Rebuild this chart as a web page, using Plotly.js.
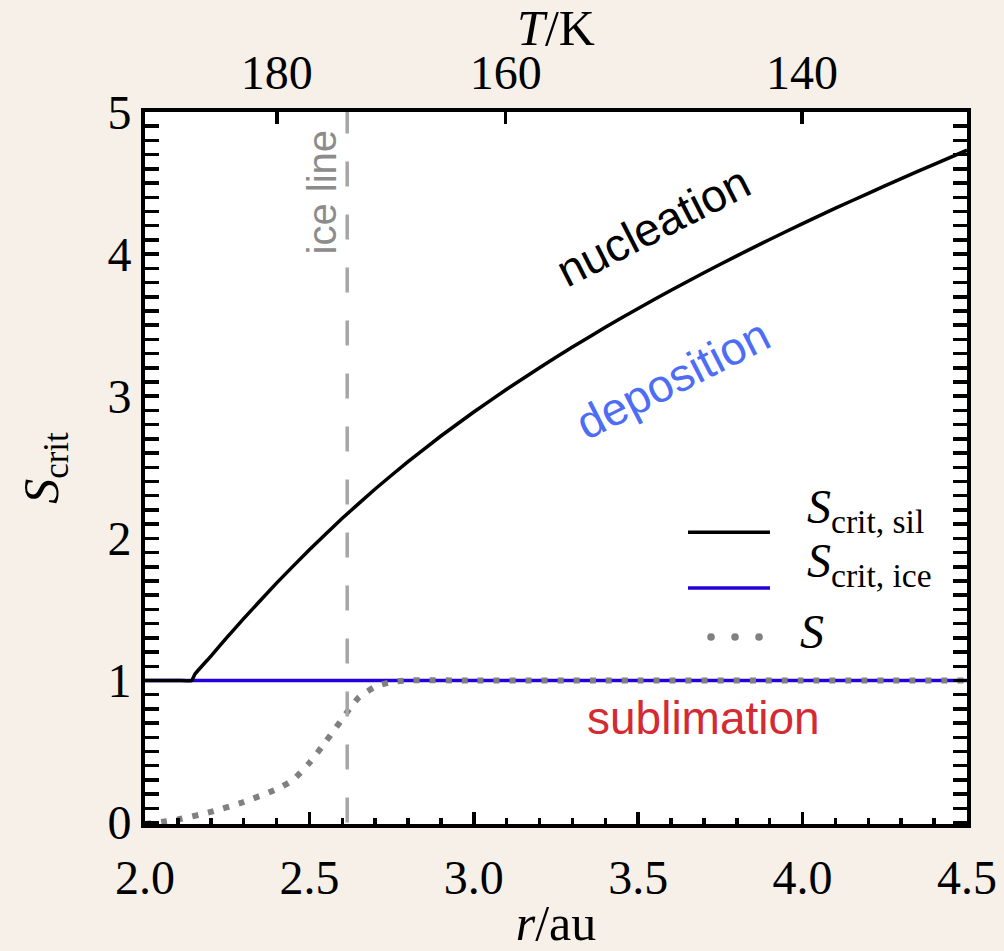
<!DOCTYPE html>
<html><head><meta charset="utf-8">
<script src="https://cdn.plot.ly/plotly-3.0.1.min.js"></script>
<style>html,body{margin:0;padding:0;background:#f6f0e9;} #chart{width:1004px;height:951px;}</style>
</head><body><div id="chart"></div>
<script>
// ---- data ----
const rSil = [2.0, 2.1, 2.142, 2.152, 2.2, 2.25, 2.3, 2.4, 2.5, 2.6, 2.7, 2.8, 2.9, 3.0, 3.1, 3.2, 3.3, 3.4, 3.5, 3.6, 3.7, 3.8, 3.9, 4.0, 4.1, 4.2, 4.3, 4.4, 4.5];
const sSil = [1.0, 1.0, 1.0, 1.045, 1.17, 1.305, 1.435, 1.685, 1.92, 2.141, 2.347, 2.540, 2.720, 2.889, 3.049, 3.201, 3.346, 3.485, 3.618, 3.746, 3.869, 3.988, 4.103, 4.215, 4.323, 4.428, 4.531, 4.632, 4.731];
const rIce = [2.0, 4.5];
const sIce = [1.0, 1.0];
const rSat = [2.0, 2.1, 2.2, 2.3, 2.4, 2.45, 2.5, 2.55, 2.6, 2.65, 2.7, 2.75, 2.8, 3.0, 3.5, 4.0, 4.5];
const sSat = [-0.01, 0.022, 0.075, 0.145, 0.235, 0.30, 0.42, 0.57, 0.73, 0.88, 0.955, 0.99, 1.0, 1.0, 1.0, 1.0, 1.0];
const iceLineR = 2.615;
const iceLineS = [0.0, 5.0];
const tempTickText = ['180', '160', '140'];
const tempTickR = [2.401, 3.097, 3.998];
const legendNames = ['<i>S</i><sub>crit, sil</sub>', '<i>S</i><sub>crit, ice</sub>', '<i>S</i>'];
const regionLabels = ['nucleation', 'deposition', 'sublimation'];
const regionLabelR = [3.546, 3.605, 3.70];
const regionLabelS = [4.20, 3.12, 0.735];

const serif = '"Liberation Serif", "Times New Roman", serif';
const sans = '"Liberation Sans", Arial, sans-serif';

const traces = [
  {x: [iceLineR, iceLineR], y: iceLineS, xaxis: 'x2', mode: 'lines',
   line: {color: '#a6a6a6', width: 3.5, dash: '25px,28px'}, hoverinfo: 'skip'},
  {x: rIce, y: sIce, mode: 'lines', name: legendNames[1], line: {color: '#2200dd', width: 3.5}},
  {x: rSil, y: sSil, mode: 'lines', name: legendNames[0], line: {color: '#000000', width: 3.5, shape: 'spline', smoothing: 0.4}},
  {x: rSat, y: sSat, mode: 'lines', name: legendNames[2], line: {color: '#808080', width: 6, dash: '6px,10px', shape: 'spline', smoothing: 0.6}}
];

const axisCommon = {
  showgrid: false, zeroline: false, showline: true, linecolor: '#000', linewidth: 4,
  ticks: 'inside', tickcolor: '#000', tickwidth: 3.5,
  tickfont: {family: serif, size: 48, color: '#000'}
};

const annotations = [
  {x: regionLabelR[0], y: regionLabelS[0], xref: 'x', yref: 'y', text: regionLabels[0], showarrow: false,
   textangle: -27, font: {family: sans, size: 46, color: '#000000'}},
  {x: regionLabelR[1], y: regionLabelS[1], xref: 'x', yref: 'y', text: regionLabels[1], showarrow: false,
   textangle: -27, font: {family: sans, size: 46, color: '#4d6df5'}},
  {x: regionLabelR[2], y: regionLabelS[2], xref: 'x', yref: 'y', text: regionLabels[2], showarrow: false,
   font: {family: sans, size: 46, color: '#d42a32'}},
  {x: 2.538, y: 4.44, xref: 'x', yref: 'y', text: 'ice line', showarrow: false,
   textangle: -90, font: {family: sans, size: 40, color: '#8c8c8c'}},
  {x: 0.8029, y: 0.4407, xref: 'paper', yref: 'paper', xanchor: 'left', yanchor: 'middle', text: legendNames[0],
   showarrow: false, font: {family: serif, size: 48, color: '#000'}},
  {x: 0.8029, y: 0.3650, xref: 'paper', yref: 'paper', xanchor: 'left', yanchor: 'middle', text: legendNames[1],
   showarrow: false, font: {family: serif, size: 48, color: '#000'}},
  {x: 0.7944, y: 0.270, xref: 'paper', yref: 'paper', xanchor: 'left', yanchor: 'middle', text: legendNames[2],
   showarrow: false, font: {family: serif, size: 48, color: '#000'}}
];

const dotX = [0.6886, 0.7178, 0.7470];
const shapes = [
  {type: 'line', xref: 'paper', yref: 'paper', x0: 0.6606, x1: 0.7603, y0: 0.4099, y1: 0.4099, line: {color: '#000', width: 3.5}},
  {type: 'line', xref: 'paper', yref: 'paper', x0: 0.6606, x1: 0.7603, y0: 0.3314, y1: 0.3314, line: {color: '#2200dd', width: 3.5}}
].concat(dotX.map(function (dx) {
  return {type: 'circle', xref: 'paper', yref: 'paper', xsizemode: 'pixel', ysizemode: 'pixel',
    xanchor: dx, yanchor: 0.2627, x0: -3.8, x1: 3.8, y0: -3.8, y1: 3.8,
    fillcolor: '#808080', line: {width: 0}};
}));

const layout = {
  width: 1004, height: 951,
  paper_bgcolor: '#f6f0e9', plot_bgcolor: '#ffffff',
  margin: {l: 145, r: 37, t: 112, b: 127, pad: 0},
  showlegend: false,
  font: {family: serif, color: '#000'},
  xaxis: Object.assign({}, axisCommon, {
    range: [2, 4.5], tick0: 2, dtick: 0.5, tickformat: '.1f', ticklen: 12, mirror: false,
    ticklabelstandoff: 8,
    minor: {ticks: 'inside', dtick: 0.1, tick0: 2, ticklen: 6, tickwidth: 3.5, tickcolor: '#000', showgrid: false},
    title: {text: '<i>r</i>/au', font: {family: serif, size: 50}, standoff: 14}
  }),
  xaxis2: Object.assign({}, axisCommon, {
    overlaying: 'x', side: 'top', anchor: 'y', range: [2, 4.5],
    tickmode: 'array', tickvals: tempTickR, ticktext: tempTickText, ticklen: 12,
    title: {text: '<i>T</i>/K', font: {family: serif, size: 50}, standoff: 8}
  }),
  yaxis: Object.assign({}, axisCommon, {
    range: [-0.01, 5], tick0: 0, dtick: 1, ticklen: 14, mirror: 'allticks',
    minor: {ticks: 'inside', dtick: 0.1, tick0: 0, ticklen: 7, tickwidth: 3.5, tickcolor: '#000', showgrid: false},
    title: {text: '<i>S</i><sub>crit</sub>', font: {family: serif, size: 50}, standoff: 34}
  }),
  annotations: annotations,
  shapes: shapes
};

Plotly.newPlot('chart', traces, layout, {displayModeBar: false, staticPlot: true});
</script>
</body></html>
